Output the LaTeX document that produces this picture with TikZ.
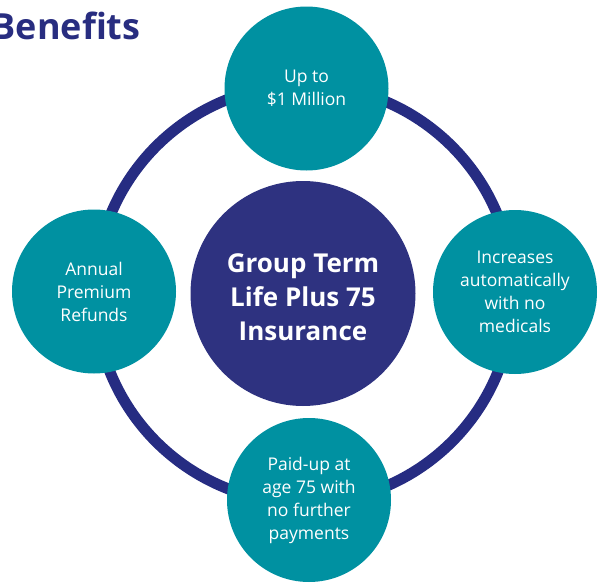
\documentclass[tikz,border=0pt]{standalone}
\usepackage{fontspec}
\setmainfont{Open Sans}
\definecolor{benteal}{RGB}{0,145,161}
\definecolor{benring}{RGB}{38,44,130}
\definecolor{bencore}{RGB}{46,50,128}
\definecolor{bentitle}{RGB}{40,45,128}
\tikzset{
  petal/.style={circle, fill=benteal, minimum size=164pt, inner sep=0pt,
    align=center, text=white, font=\fontsize{17.5}{23}\selectfont},
  core/.style={circle, fill=bencore, minimum size=225pt, inner sep=0pt},
  corelabel/.style={align=center, text=white, font=\fontsize{26}{34}\selectfont\bfseries},
  ring/.style={circle, draw=benring, line width=11pt, minimum size=418pt, inner sep=0pt}
}
\begin{document}
\begin{tikzpicture}
    \def\x{1pt}
    \def\y{-1pt}
    \useasboundingbox (0,0) rectangle (598*\x, 584*\y);
    \node [anchor=base east, text=bentitle, font=\fontsize{36}{40}\selectfont\bfseries]
      (T) at (144*\x, 39*\y) {Benefits};
    \node [ring] (R) at (304*\x, 294*\y) {};
    \node [core] (B1_1) at (303*\x, 293.5*\y) {};
    \node [corelabel] (L1_1) at (303*\x, 297*\y) {Group Term\\Life Plus 75\\Insurance};
    \node [petal] (B0_1) at (306.5*\x, 88.5*\y) {Up to\\\$1 Million};
    \node [petal] (B1_0) at (94*\x, 291.5*\y) {Annual\\Premium\\Refunds};
    \node [petal] (B1_2) at (515*\x, 292*\y) {Increases\\automatically\\with no\\medicals};
    \node [petal] (B2_1) at (309*\x, 500*\y) {Paid-up at\\age 75 with\\no further\\payments};
  \end{tikzpicture}
\end{document}
